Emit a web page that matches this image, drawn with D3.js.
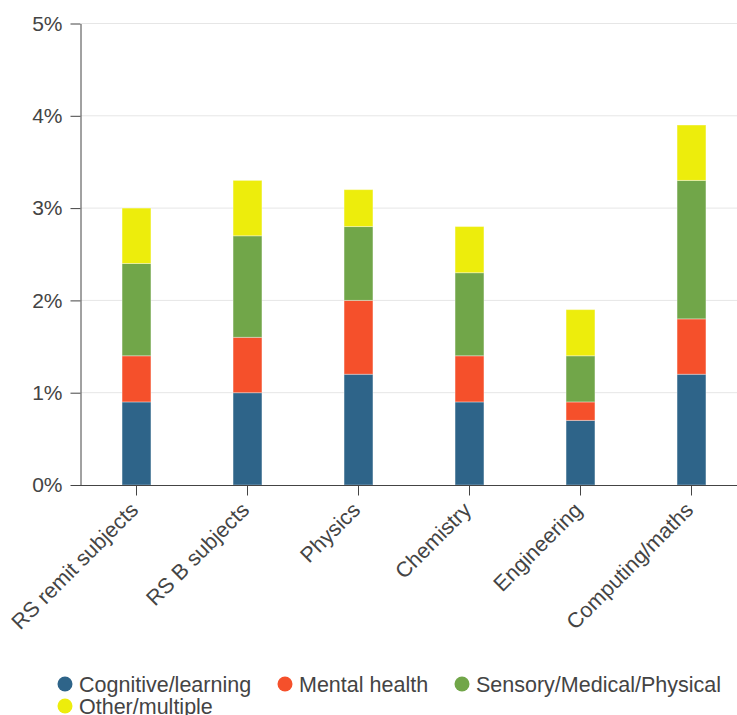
<!DOCTYPE html>
<html>
<head>
<meta charset="utf-8">
<script src="https://cdn.jsdelivr.net/npm/d3@7"></script>
<style>
  html, body { margin: 0; padding: 0; background: #fff; }
  svg { display: block; font-family: "Liberation Sans", Arial, sans-serif; }
</style>
</head>
<body>
<svg id="chart" width="737" height="715"></svg>
<script>
// Subjects along the x axis
const categories = ["RS remit subjects", "RS B subjects", "Physics", "Chemistry", "Engineering", "Computing/maths"];

// Share of students (%) by disability type, stacked in this order
const seriesNames = ["Cognitive/learning", "Mental health", "Sensory/Medical/Physical", "Other/multiple"];
const cognitive = [0.9, 1.0, 1.2, 0.9, 0.7, 1.2];
const mentalHealth = [0.5, 0.6, 0.8, 0.5, 0.2, 0.6];
const sensory = [1.0, 1.1, 0.8, 0.9, 0.5, 1.5];
const other = [0.6, 0.6, 0.4, 0.5, 0.5, 0.6];

const yTicks = [0, 1, 2, 3, 4, 5];
const colors = ["#2e6489", "#f5502b", "#71a649", "#eded0c"];

const seriesValues = [cognitive, mentalHealth, sensory, other];
const rows = categories.map((c, i) => {
  const r = { category: c };
  seriesNames.forEach((s, k) => { r[s] = seriesValues[k][i]; });
  return r;
});

const svg = d3.select("#chart");
const W = 737;
const x = d3.scaleBand().domain(categories).range([81, 747]).paddingInner(0.74).paddingOuter(0.37);
const y = d3.scaleLinear().domain([0, 5]).range([485, 23.5]);
const color = d3.scaleOrdinal().domain(seriesNames).range(colors);

// Horizontal gridlines
svg.append("g")
  .selectAll("line")
  .data(yTicks.slice(1))
  .join("line")
  .attr("x1", 81).attr("x2", W)
  .attr("y1", d => y(d)).attr("y2", d => y(d))
  .attr("stroke", "#e6e6e6").attr("stroke-width", 1);

// Stacked bars
const stack = d3.stack().keys(seriesNames)(rows);
svg.append("g")
  .selectAll("g")
  .data(stack)
  .join("g")
  .attr("fill", d => color(d.key))
  .selectAll("rect")
  .data(d => d)
  .join("rect")
  .attr("x", d => x(d.data.category))
  .attr("width", x.bandwidth())
  .attr("y", d => y(d[1]))
  .attr("height", d => y(d[0]) - y(d[1]))
  .attr("stroke", "rgba(255,255,255,0.35)")
  .attr("stroke-width", 1);

// Y axis
const yAxis = svg.append("g")
  .attr("transform", "translate(80.5,0)")
  .call(d3.axisLeft(y).tickValues(yTicks).tickFormat(d => d + "%").tickSize(10).tickSizeOuter(0));
yAxis.select(".domain").attr("stroke", "#444");
yAxis.selectAll(".tick line").attr("stroke", "#444");
yAxis.selectAll(".tick text")
  .attr("fill", "#444").attr("font-size", 21).attr("x", -18)
  .attr("font-family", "'Liberation Sans', Arial, sans-serif");

// X axis
const xAxis = svg.append("g")
  .attr("transform", "translate(0,485.5)")
  .call(d3.axisBottom(x).tickSize(10).tickSizeOuter(0));
xAxis.select(".domain").attr("stroke", "#444").attr("d", `M80,0H${W}`);
xAxis.selectAll(".tick line").attr("stroke", "#444");
xAxis.selectAll(".tick text")
  .attr("fill", "#444").attr("font-size", 21.5)
  .attr("font-family", "'Liberation Sans', Arial, sans-serif")
  .attr("text-anchor", "end")
  .attr("dy", 0)
  .attr("transform", "translate(3,26) rotate(-45)")
  .attr("x", 0).attr("y", 0);

// Legend
const legendPos = [[65, 684], [285, 684], [462, 684], [65, 706]];
const legend = svg.append("g")
  .selectAll("g")
  .data(seriesNames)
  .join("g")
  .attr("transform", (d, i) => `translate(${legendPos[i][0]},${legendPos[i][1]})`);
legend.append("circle").attr("r", 7.5).attr("fill", d => color(d));
legend.append("text")
  .attr("x", 14).attr("dy", "0.35em")
  .attr("font-size", 21.5).attr("fill", "#444")
  .text(d => d);
</script>
</body>
</html>
